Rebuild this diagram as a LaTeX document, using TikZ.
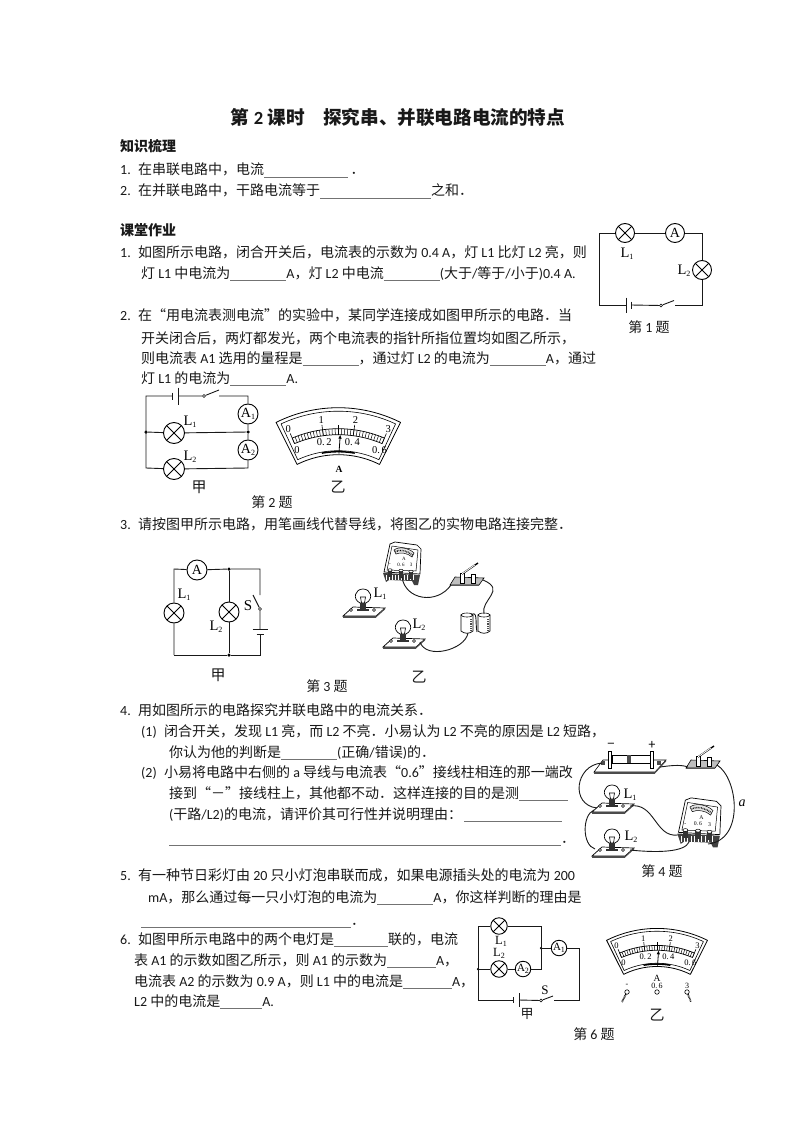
\documentclass[tikz,border=0pt]{standalone}
\usepackage[no-math]{fontspec}
\usetikzlibrary{arrows.meta}
\setmainfont{Noto Sans CJK SC}
\newfontfamily\carlito{Carlito}
\newfontfamily\serif{Liberation Serif}
\definecolor{blankgray}{gray}{0.45}
\definecolor{inkgray}{gray}{0.1}
\newcommand{\la}[1]{{\carlito #1}}
\newcommand{\blk}[1]{\textcolor{blankgray}{\rule[-2.5pt]{#1pt}{0.9pt}}}
\newcommand{\qn}[1]{\makebox[18pt][l]{\la{#1}}}
\newcommand{\sbs}[2]{{\serif #1\raisebox{-2pt}{\fontsize{8}{8}\selectfont #2}}}
\tikzset{
  txt/.style={anchor=base west,inner sep=0pt,font=\fontsize{14}{14}\selectfont,text=inkgray},
  head/.style={txt,font=\fontsize{14}{14}\selectfont\bfseries},
  ttl/.style={inner sep=0pt,font=\fontsize{18.6}{18.6}\selectfont\bfseries,text=inkgray},
  figlab/.style={inner sep=0pt,font=\fontsize{14}{14}\selectfont,text=inkgray},
  sym/.style={inner sep=0pt,font=\fontsize{14.5}{14.5}\selectfont},
  wire/.style={line width=0.9pt,black!90},
  jdot/.style={circle,fill=black,inner sep=0pt,minimum size=3.5pt},
  swdot/.style={circle,draw,fill=white,inner sep=0pt,minimum size=3pt,line width=0.6pt},
  lamp/.style={circle,draw,line width=0.9pt,fill=white,inner sep=0pt,minimum size=#1,
    path picture={\draw (path picture bounding box.north west) -- (path picture bounding box.south east)
      (path picture bounding box.north east) -- (path picture bounding box.south west);}},
  lamp/.default=19pt,
  meter/.style={circle,draw,line width=0.9pt,fill=white,inner sep=0pt,minimum size=#1,font=\fontsize{14}{14}\selectfont},
  meter/.default=19pt,
  pics/dial/.style={code={
    \draw[line width=0.8pt,fill=white,line join=round] plot[domain=-116.6:-63.4,samples=40] (\x:139) -- plot[domain=-63.4:-116.6,samples=30] (\x:92) -- cycle;
    \draw[line width=0.6pt,line join=round] plot[domain=-115:-65,samples=40] (\x:135.5) -- plot[domain=-65:-115,samples=30] (\x:96) -- cycle;
    \draw[line width=1.5pt] plot[domain=-100:-80,samples=12] (\x:95);
    \draw[line width=0.7pt] plot[domain=-113:-67,samples=40] (\x:118);
    \draw[line width=0.7pt] plot[domain=-113:-67,samples=40] (\x:112);
    \foreach \k in {0,...,30}{\draw[line width=0.5pt] ({-113+\k*46/30}:112) -- ({-113+\k*46/30}:118);}
    \foreach \k in {0,10,20,30}{\draw[line width=0.6pt] ({-113+\k*46/30}:112) -- ({-113+\k*46/30}:123);}
    \draw[line width=0.6pt] (-90:118) -- (-90:122);
    \foreach \k/\a in {0/-113,1/-97.67,2/-82.33,3/-67}{\node[inner sep=0pt,transform shape,font=\serif\fontsize{10.5}{10.5}\selectfont] (-up\k) at (\a:128) {\k};}
    \foreach \k/\v/\a in {a/0/-113,b/0.\,2/-97.67,c/0.\,4/-82.33,d/0.\,6/-67}{\node[inner sep=0pt,transform shape,font=\serif\fontsize{10.5}{10.5}\selectfont] (-lo\k) at (\a:105.5) {\v};}
    \draw[line width=0.8pt,-{Latex[length=4pt,width=3.5pt]}] (-89.6:93) -- (-89:112);
  }},
  pics/ammbox/.style={code={
    \draw[line width=0.7pt,fill=white] (-11,-19) -- (-6,-21) -- (16,-18) -- (20,-14) -- (19,11) -- (-17,9) -- cycle;
    \draw[line width=0.5pt] (-9,-17) -- (17,-13) -- (15,8) -- (-14,7) -- cycle;
    \draw[line width=0.5pt,fill=black!10] (-7,-13) .. controls (-2,-17) and (8,-15) .. (13,-10) -- (11,-6) .. controls (7,-10) and (-1,-11) .. (-5,-9) -- cycle;
    \draw[line width=1.4pt,dash pattern=on 0.7pt off 0.9pt] (-5.5,-11.5) .. controls (-1,-14) and (7,-12) .. (11.5,-8);
    \node[inner sep=0pt,transform shape,font=\serif\fontsize{5}{5}\selectfont] (-a) at (3,-4) {A};
    \node[inner sep=0pt,transform shape,font=\serif\fontsize{5}{5}\selectfont] (-n) at (-11,2) {-};
    \node[inner sep=0pt,transform shape,font=\serif\fontsize{5}{5}\selectfont] (-m) at (0,1.5) {0.\,6};
    \node[inner sep=0pt,transform shape,font=\serif\fontsize{5}{5}\selectfont] (-p) at (10,2) {3};
    \fill[black!75] (-18,10) -- (19,12) -- (17,22) -- (13,22) -- (11,18) -- (-12,17) -- (-15,19) -- cycle;
    \foreach \k in {-15,-12,...,13}{\draw[white,line width=0.35pt] (\k,12) -- (\k,17);}
    \foreach \k/\j in {-11/9,0/9.5,10/10.5}{\fill[black!80] (\k-2.2,\j-2) rectangle (\k+2.2,\j+5); \draw[line width=0.5pt,fill=white] (\k,\j-2) ellipse [x radius=2.2,y radius=1.3];}
  }},
  pics/bulbbase/.style={code={
    \draw[line width=0.7pt,fill=white] (-20,5) -- (-10,-4) -- (22,-3) -- (13,5) -- cycle;
    \fill[black!70] (-20,5) -- (13,5) -- (13,6.5) -- (-20,6.5) -- cycle;
    \fill[black!70] (13,5) -- (22,-3) -- (22,-1.6) -- (13,6.5) -- cycle;
    \draw[line width=0.6pt,fill=white] (-12,-1) circle (1.5);
    \draw[line width=0.6pt,fill=white] (11,-1) circle (1.5);
    \draw[line width=0.7pt,fill=white] (-3,-8) .. controls (-11,-12) and (-8,-22) .. (0,-22) .. controls (8,-22) and (11,-12) .. (3,-8) -- cycle;
    \draw[line width=0.6pt] (-1.5,-8) -- (-2.5,-14) -- (2.5,-14) -- (1.5,-8);
    \fill[black!80] (-3,-8) rectangle (3,-2);
    \fill[black!80] (-6,-2) rectangle (6,0);
  }},
  pics/knife/.style={code={
    \draw[line width=0.6pt,fill=black!25] (-17,3) -- (-12,-5) -- (17,-4) -- (12,3) -- cycle;
    \fill[black!65] (-17,3) -- (12,3) -- (12,4.2) -- (-17,4.2) -- cycle;
    \draw[line width=0.6pt,fill=white] (-7,-9) rectangle (-3,1);
    \draw[line width=0.6pt,fill=white] (4,-8) rectangle (8,1);
    \draw[line width=1.6pt] (-5,-8) -- (8,-17);
    \draw[line width=0.8pt,white] (-4.8,-8.3) -- (7.8,-17);
    \draw[line width=1.4pt] (8,-17) -- (11,-19);
  }},
  pics/tincell/.style={code={
    \draw[line width=0.7pt,fill=white] (-6,-8) -- (-6,8) .. controls (-3,11) and (3,11) .. (6,8) -- (6,-8) -- cycle;
    \draw[line width=0.6pt,fill=white] (0,-8) ellipse [x radius=6,y radius=2];
    \draw[line width=1.2pt,black!70,dash pattern=on 1pt off 0.8pt] (4,-4) -- (4,8);
  }},
  pics/holder/.style={code={
    \draw[line width=0.6pt,fill=white] (-36,6) -- (-27,-6) -- (36,-6) -- (25,6) -- cycle;
    \fill[black!70] (-36,6) -- (25,6) -- (25,7.5) -- (-36,7.5) -- cycle;
    \fill[black!70] (25,6) -- (36,-6) -- (36,-4.5) -- (25,7.5) -- cycle;
    \draw[line width=0.6pt,fill=white] (-18,-11) rectangle (20,-3);
    \fill[black!70] (-3,-11) rectangle (1,-3);
    \draw[line width=0.6pt,fill=white] (-21.5,-15) rectangle (-18.5,2);
    \draw[line width=0.6pt,fill=white] (20,-15) rectangle (23,2);
    \fill[black!70] (-29,-5) rectangle (-25,-1);
    \fill[black!70] (27,-5) rectangle (31,-1);
  }}
}
\begin{document}
\begin{tikzpicture}[x=1pt,y=-1pt]
  \useasboundingbox (0,0) rectangle (794,1123);
  \fill[white] (0,0) rectangle (794,1123);
  \node[ttl] (title) at (398,117) {第 \la{2} 课时\hspace{1em}探究串、并联电路电流的特点};
  \node[head] (h1) at (120,152) {知识梳理};
  \node[txt] (a1) at (120,175) {\qn{1.}在串联电路中，电流\blk{84}\,．};
  \node[txt] (a2) at (120,196) {\qn{2.}在并联电路中，干路电流等于\blk{111}之和．};
  \node[head] (h2) at (120,236) {课堂作业};
  \node[txt] (q1a) at (120,257) {\qn{1.}如图所示电路，闭合开关后，电流表的示数为 \la{0.4 A}，灯 \la{L1} 比灯 \la{L2} 亮，则};
  \node[txt] (q1b) at (141,278) {灯 \la{L1} 中电流为\blk{56}\la{A}，灯 \la{L2} 中电流\blk{56}\la{(}大于\la{/}等于\la{/}小于\la{)0.4 A.}};
  \node[txt] (q2a) at (120,320) {\qn{2.}在“用电流表测电流”的实验中，某同学连接成如图甲所示的电路．当};
  \node[txt] (q2b) at (141,343) {开关闭合后，两灯都发光，两个电流表的指针所指位置均如图乙所示，};
  \node[txt] (q2c) at (141,363) {则电流表 \la{A1} 选用的量程是\blk{56}，通过灯 \la{L2} 的电流为\blk{56}\la{A}，通过};
  \node[txt] (q2d) at (141,383) {灯 \la{L1} 的电流为\blk{56}\la{A.}};
  \node[txt] (q3a) at (120,529) {\qn{3.}请按图甲所示电路，用笔画线代替导线，将图乙的实物电路连接完整．};
  \node[txt] (q4a) at (120,715) {\qn{4.}用如图所示的电路探究并联电路中的电流关系．};
  \node[txt] (q4b) at (141,736) {\makebox[23pt][l]{\la{(1)}}闭合开关，发现 \la{L1} 亮，而 \la{L2} 不亮．小易认为 \la{L2} 不亮的原因是 \la{L2} 短路，};
  \node[txt] (q4c) at (169,757) {你认为他的判断是\blk{56}\la{(}正确\la{/}错误\la{)}的．};
  \node[txt] (q4d) at (141,777) {\makebox[23pt][l]{\la{(2)}}小易将电路中右侧的 \la{a} 导线与电流表“\la{0.6}”接线柱相连的那一端改};
  \node[txt] (q4e) at (169,798) {接到“－”接线柱上，其他都不动．这样连接的目的是测\blk{49}};
  \node[txt] (q4f) at (169,819) {\la{(}干路\la{/L2)}的电流，请评价其可行性并说明理由：\,\blk{98}};
  \node[txt] (q4g) at (169,843) {\blk{392}．};
  \node[txt] (q5a) at (120,880) {\qn{5.}有一种节日彩灯由 \la{20} 只小灯泡串联而成，如果电源插头处的电流为 \la{200}};
  \node[txt] (q5b) at (148,902) {\la{mA}，那么通过每一只小灯泡的电流为\blk{56}\la{A}，你这样判断的理由是};
  \node[txt] (q5c) at (141,925) {\blk{210}．};
  \node[txt] (q6a) at (120,944) {\qn{6.}如图甲所示电路中的两个电灯是\blk{54}联的，电流};
  \node[txt] (q6b) at (134,965) {表 \la{A1} 的示数如图乙所示，则 \la{A1} 的示数为\blk{49}\la{A}，};
  \node[txt] (q6c) at (134,986) {电流表 \la{A2} 的示数为 \la{0.9 A}，则 \la{L1} 中的电流是\blk{49}\la{A}，};
  \node[txt] (q6d) at (134,1006) {\la{L2} 中的电流是\blk{42}\la{A.}};

  \coordinate (c1a) at (599,233);
  \coordinate (c1b) at (702,233);
  \coordinate (c1c) at (702,305);
  \coordinate (c1d) at (599,305);
  \coordinate (c1p) at (626,305);
  \coordinate (c1n) at (631,305);
  \coordinate (c1e) at (674.5,305);
  \coordinate (c1t) at (674,300.5);
  \node[lamp] (c1l1) at (625,233) {};
  \node[meter] (c1m) at (675,233) {\serif A};
  \node[lamp] (c1l2) at (702,270) {};
  \node[swdot] (c1s) at (661,305.5) {};
  \draw[wire] (c1d) -- (c1a) -- (c1l1) -- (c1m) -- (c1b) -- (c1l2) -- (c1c) -- (c1e);
  \draw[wire] (c1d) -- (c1p);
  \draw[wire] (c1n) -- (c1s) -- (c1t);
  \draw[wire] ([yshift=7.5]c1p) -- ([yshift=-7.5]c1p);
  \draw[wire] ([yshift=3.5]c1n) -- ([yshift=-3.5]c1n);
  \node[sym] (c1t1) at (627,254) {\sbs{L}{1}};
  \node[sym] (c1t2) at (684,271) {\sbs{L}{2}};
  \node[figlab] (c1f) at (649,327) {第 \la{1} 题};

  \coordinate (c2a) at (146,396);
  \coordinate (c2b) at (248,396);
  \coordinate (c2c) at (146,468);
  \coordinate (c2d) at (248,468);
  \coordinate (c2p) at (178,396);
  \coordinate (c2n) at (172,396);
  \coordinate (c2e) at (219,396);
  \coordinate (c2t) at (219,390);
  \node[jdot] (c2j1) at (146,432) {};
  \node[jdot] (c2j2) at (248,432) {};
  \node[lamp=21pt] (c2l1) at (174,433) {};
  \node[lamp=21pt] (c2l2) at (174,469) {};
  \node[meter=20pt] (c2m1) at (248,414) {\sbs{A}{1}};
  \node[meter=20pt] (c2m2) at (248,450) {\sbs{A}{2}};
  \node[swdot] (c2s) at (204,396) {};
  \draw[wire] (c2n) -- (c2a) -- (c2c) -- (c2l2) -- (c2d) -- (c2m2) -- (c2j2) -- (c2m1) -- (c2b) -- (c2e);
  \draw[wire] (c2j1) -- (c2l1) -- (c2j2);
  \draw[wire] (c2p) -- (c2s) -- (c2t);
  \draw[wire] ([yshift=8.5]c2p) -- ([yshift=-8.5]c2p);
  \draw[wire] ([yshift=3.5]c2n) -- ([yshift=-3.5]c2n);
  \node[sym] (c2t1) at (190,422) {\sbs{L}{1}};
  \node[sym] (c2t2) at (190,457) {\sbs{L}{2}};
  \node[figlab,font=\fontsize{15}{15}\selectfont] (c2f) at (199,487) {甲};
  \pic (d2) at (338.3,546.7) {dial};
  \node[inner sep=0pt,font=\serif\bfseries\fontsize{9.5}{9.5}\selectfont] (d2a) at (339,469) {A};
  \node[figlab,font=\fontsize{15}{15}\selectfont] (d2f) at (338,487) {乙};
  \node[figlab] (f2) at (272,502) {第 \la{2} 题};

  \coordinate (c3a) at (174,569);
  \coordinate (c3b) at (229,569);
  \coordinate (c3c) at (260,569);
  \coordinate (c3d) at (260,595);
  \coordinate (c3e) at (253,595);
  \coordinate (c3p) at (260,629);
  \coordinate (c3n) at (260,634);
  \coordinate (c3f) at (260,655);
  \coordinate (c3g) at (174,655);
  \node[jdot] (c3j1) at (229,569) {};
  \node[jdot] (c3j2) at (229,655) {};
  \node[meter=20pt] (c3m) at (197,570) {\serif A};
  \node[lamp=20pt] (c3l1) at (174,613) {};
  \node[lamp=20pt] (c3l2) at (229,612) {};
  \node[swdot] (c3s) at (260,609) {};
  \draw[wire] (c3g) -- (c3l1) -- (c3a) -- (c3m) -- (c3j1) -- (c3c) -- (c3d);
  \draw[wire] (c3j1) -- (c3l2) -- (c3j2);
  \draw[wire] (c3e) -- (c3s) -- (c3p);
  \draw[wire] (c3n) -- (c3f) -- (c3j2) -- (c3g);
  \draw[wire] ([xshift=-7.5]c3p) -- ([xshift=7.5]c3p);
  \draw[wire] ([xshift=-3.5]c3n) -- ([xshift=3.5]c3n);
  \node[sym] (c3t1) at (184,595) {\sbs{L}{1}};
  \node[sym] (c3t2) at (216,627) {\sbs{L}{2}};
  \node[sym,font=\serif\fontsize{15}{15}\selectfont] (c3t3) at (248,606) {S};
  \node[figlab,font=\fontsize{15}{15}\selectfont] (c3f1) at (218,675) {甲};
  \pic (r3m) at (401,563) {ammbox};
  \pic (r3k) at (467,582) {knife};
  \pic (r3b1) at (363,611) {bulbbase};
  \pic (r3b2) at (403,642) {bulbbase};
  \pic (r3c1) at (467,623) {tincell};
  \pic (r3c2) at (484,623) {tincell};
  \node[sym] (r3t1) at (380,594) {\sbs{L}{1}};
  \node[sym] (r3t2) at (419,625) {\sbs{L}{2}};
  \coordinate (w3a) at (402,577);
  \coordinate (w3b) at (451,585);
  \coordinate (w3c) at (483,580);
  \coordinate (w3d) at (484,614);
  \coordinate (w3e) at (471,615);
  \coordinate (w3f) at (477,632);
  \coordinate (w3g) at (468,633);
  \coordinate (w3h) at (420,642);
  \draw[wire] (w3a) .. controls +(3,23) and +(-14,20) .. (w3b);
  \draw[wire] (w3c) .. controls +(24,10) and +(-4,-14) .. (w3d);
  \draw[wire] (w3e) .. controls +(7,-5) and +(-2,-10) .. (w3f);
  \draw[wire] (w3g) .. controls +(-3,17) and +(6,18) .. (w3h);
  \node[figlab,font=\fontsize{15}{15}\selectfont] (r3f) at (419,677) {乙};
  \node[figlab] (f3) at (327,686) {第 \la{3} 题};

  \pic (r4h) at (630,766) {holder};
  \node[sym,font=\fontsize{13}{13}\selectfont] (r4n) at (611,746) {−};
  \node[sym,font=\fontsize{13}{13}\selectfont] (r4p) at (652,745) {+};
  \pic (r4k) at (703,765) {knife};
  \pic (r4b1) at (612,807) {bulbbase};
  \pic (r4b2) at (612,851) {bulbbase};
  \pic[scale=1.15] (r4m) at (698,822) {ammbox};
  \node[sym] (r4t1) at (630,795) {\sbs{L}{1}};
  \node[sym] (r4t2) at (631,837) {\sbs{L}{2}};
  \node[sym,font=\serif\itshape\fontsize{14}{14}\selectfont] (r4a) at (742,803) {a};
  \coordinate (w4a) at (602,763);
  \coordinate (w4b) at (597,808);
  \coordinate (w4c) at (660,767);
  \coordinate (w4d) at (688,767);
  \coordinate (w4e) at (717,765);
  \coordinate (w4f) at (708,844);
  \coordinate (w4g) at (594,810);
  \coordinate (w4h) at (595,849);
  \coordinate (w4i) at (630,806);
  \coordinate (w4j) at (678,835);
  \coordinate (w4k) at (630,850);
  \coordinate (w4l) at (689,842);
  \draw[wire] (w4a) .. controls +(-27,2) and +(-27,-3) .. (w4b);
  \draw[wire] (w4c) .. controls +(8,-1) and +(-8,-3) .. (w4d);
  \draw[wire] (w4e) .. controls +(21,13) and +(37,-4) .. (w4f);
  \draw[wire] (w4g) .. controls +(-12,5) and +(-13,-4) .. (w4h);
  \draw[wire] (w4i) .. controls +(25,-4) and +(-23,3) .. (w4j);
  \draw[wire] (w4k) .. controls +(28,3) and +(-4,10) .. (w4l);
  \node[figlab] (f4) at (662,871) {第 \la{4} 题};

  \coordinate (c6a) at (478,926);
  \coordinate (c6b) at (541,926);
  \coordinate (c6c) at (579,948);
  \coordinate (c6d) at (579,1000);
  \coordinate (c6e) at (478,1000);
  \coordinate (c6f) at (541,969);
  \coordinate (c6g) at (554,1000);
  \coordinate (c6h) at (553,996);
  \coordinate (c6p) at (519,1000);
  \coordinate (c6n) at (513,1000);
  \node[jdot,minimum size=2.5pt] (c6j1) at (478,969) {};
  \node[jdot,minimum size=2.5pt] (c6j2) at (541,948) {};
  \node[lamp=16.5pt] (c6l1) at (499,926) {};
  \node[lamp=16.5pt] (c6l2) at (499,969) {};
  \node[meter=15.5pt,font=\fontsize{11}{11}\selectfont] (c6m1) at (559,948) {\sbs{A}{1}};
  \node[meter=15.5pt,font=\fontsize{11}{11}\selectfont] (c6m2) at (523,969) {\sbs{A}{2}};
  \node[swdot] (c6s) at (541,1000.5) {};
  \draw[wire] (c6n) -- (c6e) -- (c6a) -- (c6l1) -- (c6b) -- (c6f) -- (c6m2) -- (c6l2) -- (c6j1);
  \draw[wire] (c6j2) -- (c6m1) -- (c6c) -- (c6d) -- (c6g);
  \draw[wire] (c6p) -- (c6s) -- (c6h);
  \draw[wire] ([yshift=7]c6p) -- ([yshift=-7]c6p);
  \draw[wire] ([yshift=3]c6n) -- ([yshift=-3]c6n);
  \node[sym,font=\fontsize{12.5}{12.5}\selectfont] (c6t1) at (501,941) {\sbs{L}{1}};
  \node[sym,font=\fontsize{12.5}{12.5}\selectfont] (c6t2) at (499,953) {\sbs{L}{2}};
  \node[sym,font=\serif\fontsize{13}{13}\selectfont] (c6t3) at (545,990) {S};
  \node[figlab,font=\fontsize{13}{13}\selectfont] (c6f1) at (527,1014) {甲};
  \pic[scale=0.81] (d6) at (657,1041) {dial};
  \node[inner sep=0pt,font=\serif\fontsize{9.5}{9.5}\selectfont] (d6a) at (657,978) {A};
  \node[inner sep=0pt,font=\serif\fontsize{8}{8}\selectfont] (d6b) at (627,985) {-};
  \node[inner sep=0pt,font=\serif\fontsize{8}{8}\selectfont] (d6c) at (657,986) {0.\,6};
  \node[inner sep=0pt,font=\serif\fontsize{8}{8}\selectfont] (d6d) at (687,986) {3};
  \node[swdot,minimum size=4.5pt] (d6p1) at (627,992) {};
  \node[swdot,minimum size=4.5pt] (d6p2) at (657,992) {};
  \node[swdot,minimum size=4.5pt] (d6p3) at (687,992) {};
  \coordinate (d6e) at (622,1002);
  \coordinate (d6g) at (691,1002);
  \draw[line width=1.6pt,dash pattern=on 0.7pt off 0.7pt] (d6p1) -- (d6e);
  \draw[line width=1.6pt,dash pattern=on 0.7pt off 0.7pt] (d6p3) -- (d6g);
  \node[figlab,font=\fontsize{15}{15}\selectfont] (d6f) at (657,1015) {乙};
  \node[figlab] (f6) at (594,1034) {第 \la{6} 题};
\end{tikzpicture}
\end{document}
